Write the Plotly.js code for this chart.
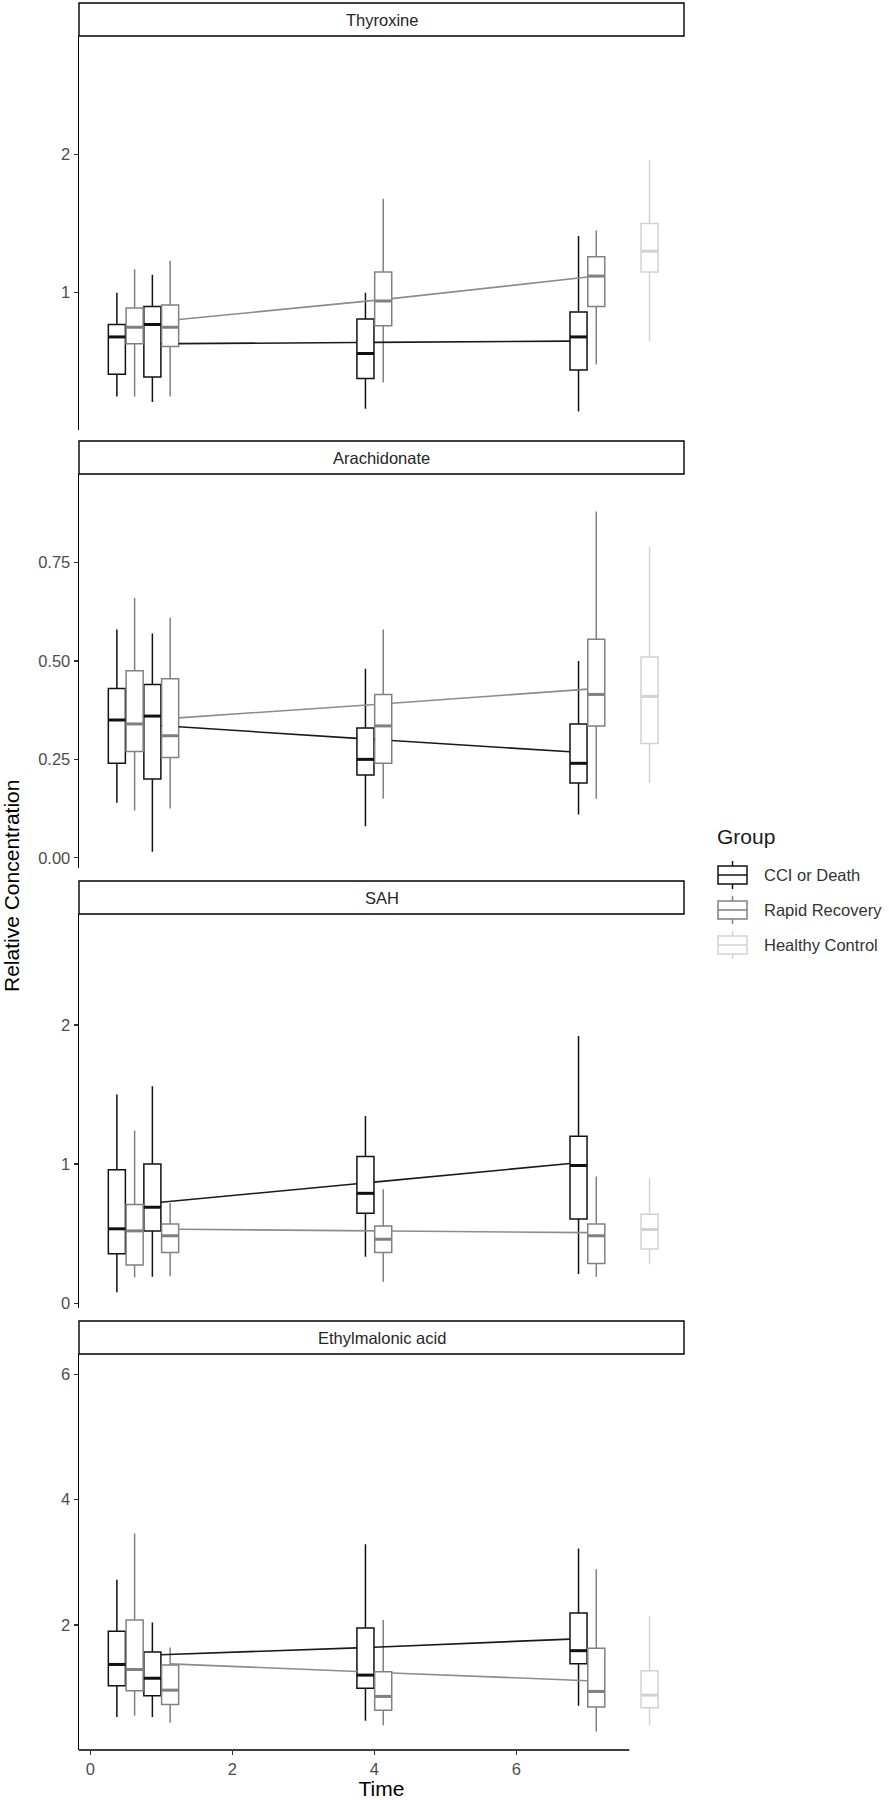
<!DOCTYPE html>
<html>
<head>
<meta charset="utf-8">
<script src="https://cdn.plot.ly/plotly-3.0.1.min.js"></script>
<style>
  html, body { margin: 0; padding: 0; background: #fff; }
  #chart { width: 889px; height: 1800px; }
</style>
</head>
<body>
<div id="chart"></div>
<script>
// ---- data ----
// each row: [lower whisker, Q1, median, Q3, upper whisker]
const metabolites = ["Thyroxine", "Arachidonate", "SAH", "Ethylmalonic acid"];
const groups = ["CCI or Death", "Rapid Recovery", "Healthy Control"];

const boxTimes = [0.5, 1, 4, 7];   // CCI / RR boxes
const lineTimes = [1, 4, 7];       // mean lines
const hcTime = 8;                  // healthy control box
const dodge = 0.125;

const thyroxineCCI = [[0.25, 0.41, 0.68, 0.77, 1.00], [0.21, 0.39, 0.77, 0.90, 1.13], [0.16, 0.38, 0.56, 0.81, 1.00], [0.14, 0.44, 0.68, 0.86, 1.41]];
const thyroxineRR = [[0.25, 0.63, 0.75, 0.89, 1.17], [0.25, 0.61, 0.75, 0.91, 1.23], [0.35, 0.76, 0.94, 1.15, 1.68], [0.48, 0.90, 1.12, 1.26, 1.45]];
const thyroxineHC = [0.65, 1.15, 1.30, 1.50, 1.96];
const thyroxineMeanCCI = [0.63, 0.64, 0.65];
const thyroxineMeanRR = [0.80, 0.95, 1.12];

const arachidonateCCI = [[0.14, 0.24, 0.35, 0.43, 0.58], [0.015, 0.20, 0.36, 0.44, 0.57], [0.08, 0.21, 0.25, 0.33, 0.48], [0.11, 0.19, 0.24, 0.34, 0.50]];
const arachidonateRR = [[0.12, 0.27, 0.34, 0.475, 0.66], [0.125, 0.255, 0.31, 0.455, 0.61], [0.15, 0.24, 0.335, 0.415, 0.58], [0.15, 0.335, 0.415, 0.555, 0.88]];
const arachidonateHC = [0.19, 0.29, 0.41, 0.51, 0.79];
const arachidonateMeanCCI = [0.337, 0.302, 0.268];
const arachidonateMeanRR = [0.354, 0.391, 0.43];

const sahCCI = [[0.08, 0.355, 0.535, 0.96, 1.50], [0.19, 0.52, 0.69, 1.00, 1.56], [0.335, 0.647, 0.79, 1.055, 1.345], [0.21, 0.605, 0.99, 1.20, 1.92]];
const sahRR = [[0.185, 0.275, 0.52, 0.71, 1.24], [0.195, 0.365, 0.485, 0.57, 0.72], [0.155, 0.365, 0.46, 0.555, 0.82], [0.19, 0.285, 0.485, 0.57, 0.91]];
const sahHC = [0.28, 0.39, 0.53, 0.64, 0.90];
const sahMeanCCI = [0.72, 0.865, 1.01];
const sahMeanRR = [0.532, 0.52, 0.507];

const ethylmalonicCCI = [[0.53, 1.03, 1.37, 1.90, 2.72], [0.53, 0.87, 1.15, 1.57, 2.04], [0.47, 0.99, 1.20, 1.95, 3.29], [0.71, 1.38, 1.59, 2.19, 3.22]];
const ethylmalonicRR = [[0.55, 0.95, 1.29, 2.08, 3.46], [0.44, 0.73, 0.96, 1.36, 1.64], [0.40, 0.64, 0.86, 1.255, 2.08], [0.30, 0.69, 0.94, 1.63, 2.89]];
const ethylmalonicHC = [0.40, 0.68, 0.88, 1.27, 2.14];
const ethylmalonicMeanCCI = [1.52, 1.64, 1.78];
const ethylmalonicMeanRR = [1.38, 1.24, 1.105];

// y axis ranges and ticks per panel
const yRanges = [[0.007, 2.856], [-0.026, 0.975], [-0.034, 2.797], [0.005, 6.324]];
const yTicks = [[1, 2], [0, 0.25, 0.5, 0.75], [0, 1, 2], [2, 4, 6]];
const yTickText = [["1", "2"], ["0.00", "0.25", "0.50", "0.75"], ["0", "1", "2"], ["2", "4", "6"]];
const xTicks = [0, 2, 4, 6];

// ---- styling / geometry ----
const W = 889, H = 1800;
const plotLeft = 79, plotRight = 684;
const panelTop = [36, 474, 914, 1354];
const panelBottom = [430, 868, 1308, 1750];
const stripH = 33;
const xRange = [-0.158, 8.36];
const xLineEnd = 7.59;   // x axis line stops short of the control box
const boxWidth = 0.24;

const colors = ["#111111", "#808080", "#d2d2d2"];
const meanColors = ["#1a1a1a", "#8c8c8c"];
const FONT = "Liberation Sans, Arial, sans-serif";
const SMALL = 16.5, BIG = 21;

// legend placement (pixels)
const legendLeft = 715, legendTitleY = 836, legendRows = [875, 910, 945];
const keyLeft = 718, keyW = 29, keyH = 18, whisk = 5, labelLeft = 762;

const panels = [
    { cci: thyroxineCCI, rr: thyroxineRR, hc: thyroxineHC, mCCI: thyroxineMeanCCI, mRR: thyroxineMeanRR },
    { cci: arachidonateCCI, rr: arachidonateRR, hc: arachidonateHC, mCCI: arachidonateMeanCCI, mRR: arachidonateMeanRR },
    { cci: sahCCI, rr: sahRR, hc: sahHC, mCCI: sahMeanCCI, mRR: sahMeanRR },
    { cci: ethylmalonicCCI, rr: ethylmalonicRR, hc: ethylmalonicHC, mCCI: ethylmalonicMeanCCI, mRR: ethylmalonicMeanRR }
];

const px = v => v / W;
const py = v => 1 - v / H;

// parts of a segment hidden behind box bodies (Liang-Barsky against each rect)
function hiddenParts(a, b, rects) {
    const out = [];
    const dx = b[0] - a[0], dy = b[1] - a[1];
    rects.forEach(r => {
        let t0 = 0, t1 = 1, ok = true;
        [[-dx, a[0] - r.x0], [dx, r.x1 - a[0]], [-dy, a[1] - r.y0], [dy, r.y1 - a[1]]].forEach(([p, q]) => {
            if (!ok) return;
            if (p === 0) { if (q < 0) ok = false; return; }
            const t = q / p;
            if (p < 0) t0 = Math.max(t0, t); else t1 = Math.min(t1, t);
        });
        if (ok && t1 > t0) out.push([t0, t1]);
    });
    return out.sort((m, n) => m[0] - n[0]);
}

// mean line, broken where the white box bodies sit on top of it
function clippedLine(xs, ys, rects) {
    const X = [], Y = [];
    for (let i = 0; i < xs.length - 1; i++) {
        const a = [xs[i], ys[i]], b = [xs[i + 1], ys[i + 1]];
        let cur = 0;
        const vis = [];
        hiddenParts(a, b, rects).forEach(([s, e]) => {
            if (s > cur) vis.push([cur, s]);
            cur = Math.max(cur, e);
        });
        if (cur < 1) vis.push([cur, 1]);
        vis.forEach(([s, e]) => {
            X.push(a[0] + (b[0] - a[0]) * s, a[0] + (b[0] - a[0]) * e, null);
            Y.push(a[1] + (b[1] - a[1]) * s, a[1] + (b[1] - a[1]) * e, null);
        });
    }
    return { x: X, y: Y };
}

const traces = [];
const layout = {
    width: W, height: H,
    margin: { l: 0, r: 0, t: 0, b: 0 },
    paper_bgcolor: "#fff", plot_bgcolor: "#fff",
    font: { family: FONT, size: SMALL, color: "#4d4d4d" },
    showlegend: false,
    shapes: [],
    annotations: []
};

panels.forEach((p, i) => {
    const n = i + 1;
    const xa = n === 1 ? "x" : "x" + n;
    const ya = n === 1 ? "y" : "y" + n;

    const sets = [
        { rows: p.cci, xs: boxTimes.map(t => t - dodge), g: 0 },
        { rows: p.rr, xs: boxTimes.map(t => t + dodge), g: 1 },
        { rows: [p.hc], xs: [hcTime - dodge], g: 2 }
    ];

    const rects = [];
    sets.forEach(s => {
        s.rows.forEach((r, k) => rects.push({ x0: s.xs[k] - boxWidth / 2, x1: s.xs[k] + boxWidth / 2, y0: r[1], y1: r[3] }));
    });

    // mean lines (clipped so they run behind the boxes)
    [[p.mCCI, -dodge, 0], [p.mRR, dodge, 1]].forEach(([m, off, g]) => {
        const c = clippedLine(lineTimes.map(t => t + off), m, rects);
        traces.push({
            type: "scatter", mode: "lines", x: c.x, y: c.y, xaxis: xa, yaxis: ya,
            line: { color: meanColors[g], width: 1.6 }, hoverinfo: "skip"
        });
    });

    sets.forEach(s => {
        traces.push({
            type: "box", name: groups[s.g],
            x: s.xs,
            lowerfence: s.rows.map(r => r[0]), q1: s.rows.map(r => r[1]), median: s.rows.map(r => r[2]),
            q3: s.rows.map(r => r[3]), upperfence: s.rows.map(r => r[4]),
            width: boxWidth, whiskerwidth: 0, boxpoints: false,
            fillcolor: "#ffffff", line: { color: colors[s.g], width: 1.5 },
            xaxis: xa, yaxis: ya, hoverinfo: "skip"
        });
        // thicker median bar as in ggplot
        const mx = [], my = [];
        s.rows.forEach((r, k) => {
            mx.push(s.xs[k] - boxWidth / 2, s.xs[k] + boxWidth / 2, null);
            my.push(r[2], r[2], null);
        });
        traces.push({
            type: "scatter", mode: "lines", x: mx, y: my, xaxis: xa, yaxis: ya,
            line: { color: colors[s.g], width: 3 }, hoverinfo: "skip"
        });
    });

    const last = n === panels.length;
    layout["xaxis" + (n === 1 ? "" : n)] = {
        domain: [px(plotLeft), px(plotRight)], range: xRange, anchor: ya,
        showgrid: false, zeroline: false, showline: false,
        tickmode: "array", tickvals: xTicks, showticklabels: last,
        ticks: last ? "outside" : "", ticklen: 4, tickwidth: 1.2, tickcolor: "#333",
        tickfont: { size: SMALL, color: "#4d4d4d" },
        title: last ? { text: "Time", font: { size: BIG, color: "#000" }, standoff: 4 } : { text: "" }
    };
    layout["yaxis" + (n === 1 ? "" : n)] = {
        domain: [py(panelBottom[i]), py(panelTop[i])], range: yRanges[i], anchor: xa,
        showgrid: false, zeroline: false, showline: true, linecolor: "#000", linewidth: 1.4,
        tickmode: "array", tickvals: yTicks[i], ticktext: yTickText[i],
        ticks: "outside", ticklen: 4, tickwidth: 1.2, tickcolor: "#333",
        tickfont: { size: SMALL, color: "#4d4d4d" }
    };

    // facet strip
    layout.shapes.push({
        type: "rect", xref: "paper", yref: "paper",
        x0: px(plotLeft), x1: px(plotRight), y0: py(panelTop[i]), y1: py(panelTop[i] - stripH),
        line: { color: "#000", width: 1.4 }, fillcolor: "#fff", layer: "below"
    });
    layout.annotations.push({
        xref: "paper", yref: "paper", x: px((plotLeft + plotRight) / 2), y: py(panelTop[i] - stripH / 2),
        text: metabolites[i], showarrow: false, xanchor: "center", yanchor: "middle",
        font: { size: SMALL, color: "#262626" }
    });
});

// bottom x axis line
layout.shapes.push({
    type: "line", xref: "x4", yref: "paper", x0: xRange[0], x1: xLineEnd,
    y0: py(panelBottom[3]), y1: py(panelBottom[3]), line: { color: "#000", width: 1.4 }
});

// shared y title
layout.annotations.push({
    xref: "paper", yref: "paper", x: px(11), y: py(886), textangle: -90,
    text: "Relative Concentration", showarrow: false, xanchor: "center", yanchor: "middle",
    font: { size: BIG, color: "#000" }
});

// legend with ggplot-style box keys
layout.annotations.push({
    xref: "paper", yref: "paper", x: px(legendLeft), y: py(legendTitleY),
    text: "Group", showarrow: false, xanchor: "left", yanchor: "middle",
    font: { size: BIG, color: "#1a1a1a" }
});
groups.forEach((g, k) => {
    const cy = legendRows[k], cx = keyLeft + keyW / 2;
    const ln = { color: colors[k], width: 1.5 };
    layout.shapes.push(
        { type: "line", xref: "paper", yref: "paper", x0: px(cx), x1: px(cx), y0: py(cy - keyH / 2 - whisk), y1: py(cy - keyH / 2), line: ln },
        { type: "line", xref: "paper", yref: "paper", x0: px(cx), x1: px(cx), y0: py(cy + keyH / 2), y1: py(cy + keyH / 2 + whisk), line: ln },
        { type: "rect", xref: "paper", yref: "paper", x0: px(keyLeft), x1: px(keyLeft + keyW), y0: py(cy + keyH / 2), y1: py(cy - keyH / 2), line: ln, fillcolor: "#fff" },
        { type: "line", xref: "paper", yref: "paper", x0: px(keyLeft), x1: px(keyLeft + keyW), y0: py(cy), y1: py(cy), line: ln }
    );
    layout.annotations.push({
        xref: "paper", yref: "paper", x: px(labelLeft), y: py(cy),
        text: g, showarrow: false, xanchor: "left", yanchor: "middle",
        font: { size: SMALL, color: "#333" }
    });
});

Plotly.newPlot("chart", traces, layout, { staticPlot: true, displayModeBar: false });
</script>
</body>
</html>
